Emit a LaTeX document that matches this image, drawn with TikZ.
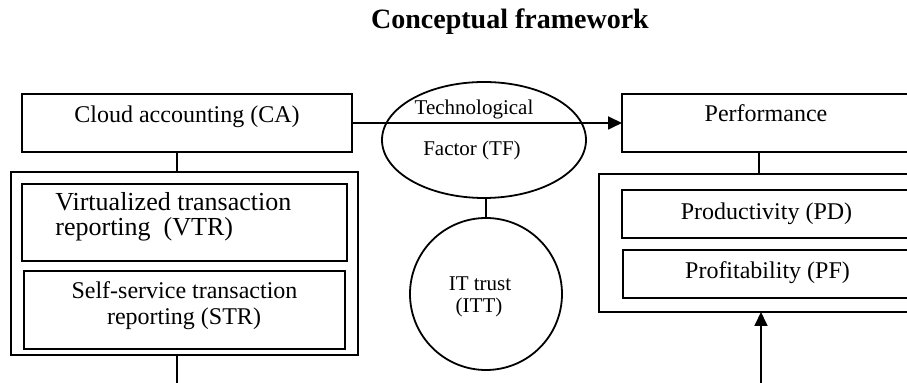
\documentclass[tikz,border=0pt]{standalone}
\usepackage{fontspec}
\setmainfont{Liberation Serif}
\usetikzlibrary{arrows.meta,shapes.geometric,calc}

\begin{document}
\begin{tikzpicture}[x=0.5pt,y=-0.5pt,
  box/.style={draw,line width=0.9pt,inner sep=0pt,outer sep=0pt},
  txt/.style={anchor=base,inner sep=0pt,font=\fontsize{12}{14}\selectfont},
  small/.style={anchor=base,inner sep=0pt,font=\fontsize{10.5}{12}\selectfont},
  link/.style={line width=0.9pt},
  arr/.style={line width=0.9pt,-{Triangle[length=7pt,width=6.5pt]}}]
\useasboundingbox (0,0) rectangle (907,383);
\node[anchor=base,inner sep=0pt,font=\bfseries\fontsize{14}{16}\selectfont] (title) at (510,29) {Conceptual framework};
% top row
\node[box,minimum width=165pt,minimum height=29pt] (ca) at (187,123) {};
\node[txt] (catxt) at (187,123) {Cloud accounting (CA)};
\node[box,minimum width=145pt,minimum height=29pt] (perf) at (767,123) {};
\node[txt] (perftxt) at (766,122) {Performance};
\node[box,ellipse,minimum width=102pt,minimum height=58pt] (tf) at (484,140) {};
\node[small] (tf1) at (474,115) {Technological};
\node[small] (tf2) at (472,156) {Factor (TF)};
\node[box,circle,minimum size=76pt] (itt) at (486,294) {};
\node[small] (itt1) at (480,291) {IT trust};
\node[small] (itt2) at (479,313) {(ITT)};
% left block
\node[box,minimum width=173.5pt,minimum height=91.5pt] (lo) at (184.5,263.5) {};
\node[box,minimum width=162.5pt,minimum height=38.5pt] (vtr) at (184.5,222.5) {};
\node[txt,anchor=base west,font=\fontsize{13}{15}\selectfont] (vtr1) at (55,211) {Virtualized transaction};
\node[txt,anchor=base west,font=\fontsize{13}{15}\selectfont] (vtr2) at (55,236) {reporting~~(VTR)};
\node[box,minimum width=160.5pt,minimum height=39pt] (str) at (184.5,310) {};
\node[txt] (str1) at (184.5,299) {Self-service transaction};
\node[txt] (str2) at (184,325) {reporting (STR)};
% right block
\node[box,minimum width=158pt,minimum height=69pt] (ro) at (757,243) {};
\node[box,minimum width=145pt,minimum height=24pt] (pd) at (767,214) {};
\node[txt] (pdtxt) at (766.5,220) {Productivity (PD)};
\node[box,minimum width=144.5pt,minimum height=24pt] (pf) at (767.5,274) {};
\node[txt] (pftxt) at (767.5,279) {Profitability (PF)};
% connectors
\coordinate (cadown) at (177,383);
\coordinate (perfdown) at (759,0);
\coordinate (pfup) at (761,383);
\draw[arr] (ca.east) -- (perf.west);
\draw[link] (itt.north) -- (itt.north |- tf.south);
\draw[link] (ca.south -| cadown) -- (lo.north -| cadown);
\draw[link] (lo.south -| cadown) -- (cadown);
\draw[link] (perf.south -| perfdown) -- (ro.north -| perfdown);
\draw[arr] (pfup) -- (ro.south -| pfup);
\end{tikzpicture}
\end{document}
